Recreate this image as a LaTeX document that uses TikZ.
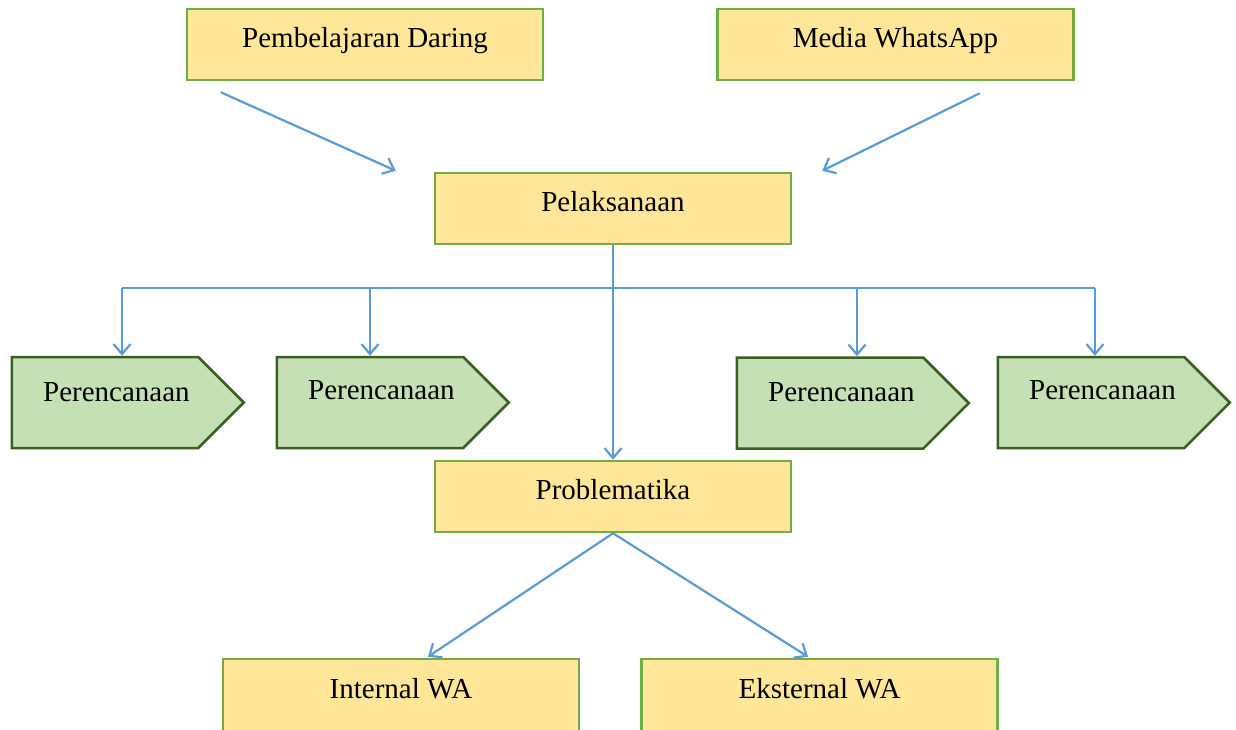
\documentclass[tikz,border=0pt]{standalone}
\usepackage{fontspec}
\setmainfont{Liberation Serif}
\usetikzlibrary{arrows.meta,shapes.symbols}
\definecolor{boxfill}{HTML}{FFE699}
\definecolor{boxline}{HTML}{70AD47}
\definecolor{planfill}{HTML}{C5E0B4}
\definecolor{planline}{HTML}{3B5E22}
\definecolor{arrowblue}{HTML}{5B9BD5}
\tikzset{
  box/.style={draw=boxline, fill=boxfill, line width=2.5pt, minimum width=356pt,
    minimum height=71pt, text height=20pt, text depth=14pt, inner sep=0pt,
    font=\fontsize{29}{34}\selectfont},
  lowbox/.style={box, minimum height=76pt, text depth=18pt},
  plan/.style={signal, signal to=east, signal pointer angle=90, draw=planline,
    fill=planfill, line width=2.5pt, minimum width=232pt, minimum height=91pt, inner sep=0pt},
  plantext/.style={inner sep=0pt, anchor=base west, font=\fontsize{29}{34}\selectfont},
  arr/.style={draw=arrowblue, line width=2.2pt, -{Straight Barb[length=10pt,width=17pt]}},
  tree/.style={draw=arrowblue, line width=1.3pt}
}
\begin{document}
\begin{tikzpicture}[x=1pt,y=-1pt]
\useasboundingbox (0,0) rectangle (1236,729);
\clip (0,0) rectangle (1236,729);

\node[box] (daring) at (365,44.5) {Pembelajaran Daring};
\node[box] (wa) at (895.5,44.5) {Media WhatsApp};
\node[box] (pelaksanaan) at (613,208.5) {Pelaksanaan};
\node[box] (problem) at (613,496.5) {Problematika};
\node[lowbox] (internal) at (401,697) {Internal WA};
\node[lowbox] (eksternal) at (819.5,697) {Eksternal WA};

\node[plan, anchor=west] (plan1) at (10.5,402.5) {};
\node[plan, anchor=west] (plan2) at (275.5,402.5) {};
\node[plan, anchor=west] (plan3) at (735.5,403) {};
\node[plan, anchor=west] (plan4) at (996.5,402.5) {};
\node[plantext] (text1) at ([shift={(32.5,-1.5)}]plan1.west) {Perencanaan};
\node[plantext] (text2) at ([shift={(32.5,-3)}]plan2.west) {Perencanaan};
\node[plantext] (text3) at ([shift={(32.5,-1.5)}]plan3.west) {Perencanaan};
\node[plantext] (text4) at ([shift={(32.5,-3)}]plan4.west) {Perencanaan};

\draw[arr] ([shift={(35,11)}]daring.south west) -- ([shift={(-38,-1)}]pelaksanaan.north west);
\draw[arr] ([shift={(-95,12)}]wa.south east) -- ([shift={(30,-1)}]pelaksanaan.north east);

\coordinate (b1) at (122,288);
\coordinate (b2) at (370,288);
\coordinate (b3) at (857,288);
\coordinate (b4) at (1095,288);
\draw[tree] (b1) -- (b4);
\draw[arr] (b1) -- (b1 |- plan1.north);
\draw[arr] (b2) -- (b2 |- plan2.north);
\draw[arr] (b3) -- (b3 |- plan3.north);
\draw[arr] (b4) -- (b4 |- plan4.north);
\draw[arr] (pelaksanaan.south) -- (problem.north);

\draw[arr] (problem.south) -- ([shift={(27,-1)}]internal.north);
\draw[arr] (problem.south) -- ([shift={(-11.5,-1)}]eksternal.north);
\end{tikzpicture}
\end{document}
